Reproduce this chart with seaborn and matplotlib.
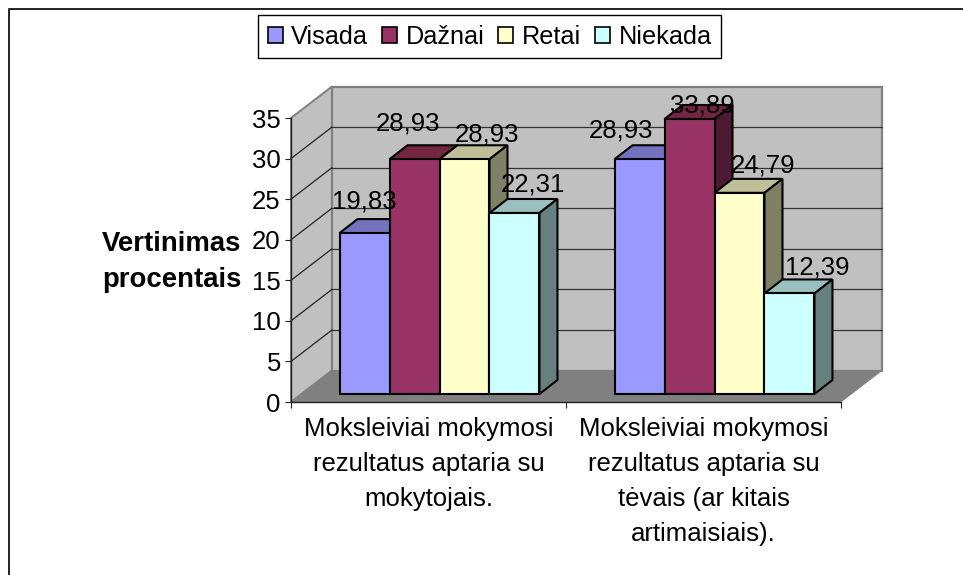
## Import Needed Libraries
from matplotlib import pyplot as plt
from matplotlib import transforms as mtransforms
from matplotlib.patches import Polygon, Rectangle
import pandas as pd
import seaborn as sns

## Chart values
categories = ['Moksleiviai mokymosi\nrezultatus aptaria su\nmokytojais.',
              'Moksleiviai mokymosi\nrezultatus aptaria su\ntėvais (ar kitais\nartimaisiais).']
series_names = ['Visada', 'Dažnai', 'Retai', 'Niekada']
visada = [19.83, 28.93]
daznai = [28.93, 33.89]
retai = [28.93, 24.79]
niekada = [22.31, 12.39]
y_ticks = [0, 5, 10, 15, 20, 25, 30, 35]

## Colours
colors = ['#9999FF', '#993366', '#FFFFCC', '#CCFFFF']
top_colors = ['#7272BF', '#732640', '#BFBF99', '#99BFBF']
side_colors = ['#4D4D80', '#4D1933', '#808066', '#668080']

## Label nudges in pixels, the labels sit unevenly in the original
label_dx = [[0, -19], [-7, 13], [23, 24], [18, 28]]
label_dy = [[25, 22], [29, 7], [18, 20], [21, 19]]

df = pd.DataFrame({
    'cat': categories * 4,
    'series': [s for s in series_names for _ in categories],
    'value': visada + daznai + retai + niekada,
})

sns.set_style('white')
plt.rcParams['font.family'] = ['Liberation Sans', 'DejaVu Sans']
plt.rcParams['text.color'] = 'black'
plt.rcParams['axes.labelcolor'] = 'black'
plt.rcParams['xtick.labelcolor'] = 'black'
plt.rcParams['ytick.labelcolor'] = 'black'
FS = 18.5

W, H = 963, 575
fig = plt.figure(figsize=(W / 100, H / 100), dpi=100)
ax = fig.add_axes([291 / W, (H - 402) / H, 550 / W, 284 / H])

ax = sns.barplot(data=df, x='cat', y='value', hue='series', palette=colors, saturation=1,
                 width=0.727, gap=0, edgecolor='black', linewidth=1.5, ax=ax, zorder=3)
ax.set_xlim(-0.5, 1.5)
ax.set_ylim(0, 35)
ax.set_yticks(y_ticks)
ax.set_xlabel('')
ax.set_ylabel('Vertinimas\nprocentais', rotation=0, ha='center', va='center',
              fontsize=19.8, fontweight='bold', linespacing=1.47)
ax.yaxis.set_label_coords((172 - 291) / 550, (402 - 262) / 284)
ax.tick_params(axis='both', labelsize=FS, length=4.3, width=0.8, color='#222222',
               left=True, bottom=True)
ax.tick_params(axis='y', pad=3)
ax.tick_params(axis='x', pad=5)
ax.set_xticks([-0.5, 0.5, 1.5], labels=['', '', ''])
for i, c in enumerate(categories):
    ax.annotate(c, xy=(i, 0), xytext=(0, -11), textcoords='offset points', ha='center', va='top',
                fontsize=FS, linespacing=1.58, annotation_clip=False)
ax.patch.set_alpha(0)
for s in ['top', 'right']:
    ax.spines[s].set_visible(False)
for s in ['left', 'bottom']:
    ax.spines[s].set_color('#222222')
    ax.spines[s].set_linewidth(1)
    ax.spines[s].set_zorder(2)

## Walls and floor, depth in pixels
DX, DY = 41, 31.5
to_px = ax.transData.transform
pixels = mtransforms.IdentityTransform()
back = ax.transData + mtransforms.Affine2D().translate(DX, DY)
x0, x1 = ax.get_xlim()
y0, y1 = ax.get_ylim()
a, b = to_px((x0, y0)), to_px((x1, y0))
c, d = to_px((x0, y1)), to_px((x1, y1))
shift = (DX, DY)

ax.add_patch(Polygon([a, a + shift, c + shift, c], closed=True, transform=pixels, facecolor='#C0C0C0',
                     edgecolor='#808080', linewidth=1.4, clip_on=False, zorder=0.5))
ax.add_patch(Rectangle((x0, y0), x1 - x0, y1 - y0, transform=back, facecolor='#C0C0C0',
                       edgecolor='#808080', linewidth=1.6, clip_on=False, zorder=0.5))
ax.add_patch(Polygon([a, b, b + shift, a + shift], closed=True, transform=pixels, facecolor='#808080',
                     edgecolor='#808080', linewidth=0.5, clip_on=False, zorder=1))
for t in y_ticks[1:-1]:
    ax.plot([x0, x1], [t, t], transform=back, color='#333333', lw=0.9, clip_on=False, zorder=1)
    p = to_px((x0, t))
    ax.plot([p[0], p[0] + DX], [p[1], p[1] + DY], transform=pixels, color='#222222', lw=0.9,
            clip_on=False, zorder=1)

## Bars pushed into the middle of the floor, with top and side faces
BX, BY = 11, 8
PX, PY = 18, 14
bar_shift = ax.transData + mtransforms.Affine2D().translate(BX, BY)
for i, container in enumerate(ax.containers):
    for j, bar in enumerate(container):
        z = 3 + i + j * 4
        bar.set_transform(bar_shift)
        bar.set_clip_on(False)
        bar.set_zorder(z + 0.2)
        left, right = bar.get_x(), bar.get_x() + bar.get_width()
        h = bar.get_height()
        tl = bar_shift.transform((left, h))
        tr = bar_shift.transform((right, h))
        br = bar_shift.transform((right, 0))
        depth = (PX, PY)
        ax.add_patch(Polygon([tl, tr, tr + depth, tl + depth], closed=True, transform=pixels,
                             facecolor=top_colors[i], edgecolor='black', linewidth=1.5,
                             clip_on=False, zorder=z))
        ax.add_patch(Polygon([tr, br, br + depth, tr + depth], closed=True, transform=pixels,
                             facecolor=side_colors[i], edgecolor='black', linewidth=1.5,
                             clip_on=False, zorder=z))
        ax.annotate(f'{h:.2f}'.replace('.', ','), xy=(left + bar.get_width() / 2, h), xycoords='data',
                    xytext=((BX + label_dx[i][j]) * 0.72, (BY + label_dy[i][j]) * 0.72),
                    textcoords='offset points', ha='center', va='baseline', fontsize=FS,
                    color='black', zorder=40, annotation_clip=False)

## Legend box on top
sns.move_legend(ax, 'upper left', bbox_to_anchor=(258 / W, 1 - 15 / H), bbox_transform=fig.transFigure,
                ncol=4, title=None, frameon=True, fontsize=18.2, fancybox=False, borderaxespad=0,
                handlelength=0.6, handleheight=0.6, handletextpad=0.33, columnspacing=0.55,
                borderpad=0.38, edgecolor='black', framealpha=1)
ax.get_legend().get_frame().set_linewidth(1)
ax.get_legend().set_zorder(50)
for hd in ax.get_legend().legend_handles:
    hd.set_edgecolor('black')
    hd.set_linewidth(1.2)

## Outer chart frame: left and top edges only
fig.add_artist(plt.Line2D([8.5 / W, 8.5 / W, 1], [0, 1 - 9 / H, 1 - 9 / H],
                          color='#222222', lw=1.4))

fig.savefig('out.png', dpi=100)
